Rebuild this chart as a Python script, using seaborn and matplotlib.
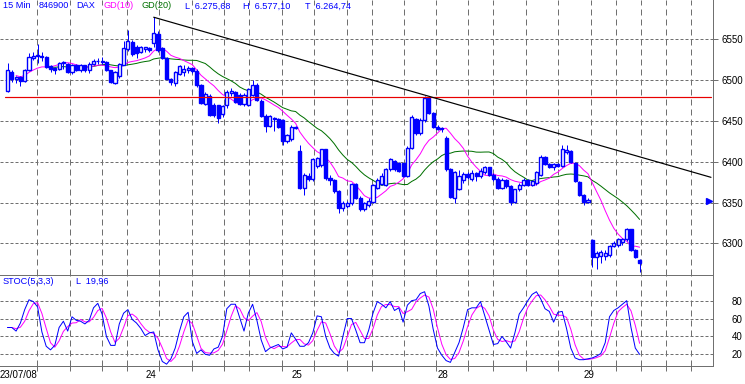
import numpy as np
import pandas as pd
import matplotlib
matplotlib.use("Agg")
import matplotlib.pyplot as plt
import seaborn as sns

# ------------------------------------------------------------------ data
day_labels = ["23/07/08", "24", "25", "28", "29"]
bars_per_day = [34, 34, 34, 34, 12]

open_ = [6487, 6510, 6501, 6504, 6499, 6513, 6527, 6529, 6530, 6528, 6517, 6515, 6514, 6521, 6520, 6510, 6519, 6513, 6518, 6512,
         6520, 6523, 6524, 6522, 6512, 6497, 6505, 6519, 6538, 6547, 6541, 6535, 6538, 6539,
         6545, 6556, 6539, 6527, 6502, 6496, 6508, 6510, 6512, 6515, 6511, 6494, 6471, 6481, 6470, 6469, 6458, 6470, 6484, 6485,
         6482, 6471, 6470, 6482, 6494, 6475, 6456, 6444, 6452, 6452, 6451, 6425, 6428, 6443,
         6413, 6368, 6383, 6379, 6395, 6396, 6415, 6380, 6378, 6364, 6343, 6346, 6349, 6373, 6356, 6342, 6347, 6351, 6368, 6373,
         6372, 6391, 6401, 6398, 6398, 6383, 6417, 6452, 6435, 6451, 6478, 6460, 6443, 6440,
         6429, 6391, 6356, 6367, 6378, 6385, 6379, 6386, 6383, 6387, 6393, 6384, 6379, 6368, 6378, 6370, 6351, 6366, 6372, 6378,
         6372, 6374, 6384, 6406, 6397, 6393, 6397, 6395, 6412, 6413, 6399, 6375, 6359, 6351,
         6304, 6283, 6284, 6285, 6286, 6297, 6298, 6302, 6305, 6317, 6292, 6280]
high = [6521, 6513, 6505, 6505, 6514, 6533, 6534, 6544, 6535, 6529, 6518, 6516, 6522, 6523, 6521, 6520, 6520, 6520, 6519, 6522,
        6526, 6527, 6528, 6523, 6513, 6511, 6521, 6548, 6561, 6549, 6543, 6542, 6541, 6541,
        6577.1, 6560, 6540, 6528, 6503, 6511, 6518, 6519, 6517, 6516, 6514, 6495, 6486, 6483, 6472, 6470, 6470, 6488, 6490, 6487,
        6484, 6484, 6490, 6500, 6496, 6477, 6458, 6457, 6455, 6454, 6452, 6434, 6445, 6444,
        6421, 6386, 6386, 6404, 6406, 6416, 6416, 6384, 6379, 6365, 6352, 6352, 6374, 6374, 6358, 6351, 6356, 6373, 6380, 6386,
        6392, 6405, 6402, 6400, 6399, 6419, 6457, 6454, 6453, 6481, 6479, 6461, 6445, 6443,
        6432, 6392, 6389, 6390, 6388, 6387, 6390, 6388, 6392, 6395, 6394, 6386, 6381, 6380, 6379, 6371, 6367, 6374, 6380, 6379,
        6378, 6389, 6408, 6407, 6398, 6399, 6399, 6420, 6420, 6414, 6400, 6376, 6360, 6355,
        6305, 6290, 6292, 6292, 6298, 6303, 6306, 6307, 6319, 6318, 6293, 6281]
low = [6486, 6498, 6496, 6493, 6498, 6511, 6525, 6521, 6523, 6515, 6510, 6507, 6512, 6514, 6509, 6508, 6511, 6510, 6510, 6509,
       6518, 6520, 6520, 6511, 6497, 6495, 6503, 6518, 6536, 6529, 6527, 6533, 6535, 6535,
       6540, 6535, 6526, 6501, 6494, 6493, 6506, 6505, 6509, 6509, 6492, 6471, 6470, 6456, 6455, 6448, 6455, 6466, 6480, 6472,
       6470, 6468, 6468, 6480, 6474, 6455, 6436, 6442, 6438, 6441, 6420, 6423, 6426, 6440,
       6366, 6359, 6376, 6376, 6392, 6394, 6378, 6372, 6362, 6337, 6340, 6343, 6347, 6354, 6340, 6340, 6345, 6350, 6366, 6371,
       6370, 6389, 6389, 6387, 6381, 6381, 6415, 6433, 6433, 6449, 6458, 6441, 6439, 6436,
       6389, 6355, 6350, 6365, 6374, 6379, 6377, 6376, 6380, 6385, 6383, 6377, 6367, 6366, 6368, 6347, 6349, 6364, 6370, 6370,
       6370, 6372, 6382, 6396, 6392, 6390, 6394, 6393, 6410, 6399, 6375, 6358, 6347, 6349,
       6271, 6269, 6276, 6280, 6283, 6295, 6296, 6298, 6303, 6290, 6282, 6264.74]
close = [6512, 6501, 6504, 6499, 6513, 6528, 6530, 6531, 6528, 6516, 6514, 6513, 6521, 6522, 6510, 6519, 6513, 6518, 6512, 6520,
         6524, 6524, 6522, 6512, 6498, 6510, 6520, 6539, 6548, 6532, 6533, 6540, 6540, 6537,
         6558, 6537, 6527, 6502, 6498, 6510, 6517, 6514, 6515, 6511, 6494, 6472, 6483, 6457, 6457, 6453, 6468, 6486, 6487, 6473,
         6471, 6482, 6489, 6494, 6476, 6456, 6444, 6456, 6454, 6443, 6425, 6433, 6443, 6441,
         6368, 6384, 6379, 6403, 6404, 6415, 6380, 6378, 6364, 6343, 6350, 6349, 6373, 6356, 6342, 6349, 6352, 6372, 6378, 6382,
         6391, 6403, 6391, 6389, 6383, 6417, 6455, 6435, 6451, 6478, 6460, 6443, 6440, 6441,
         6391, 6357, 6387, 6383, 6385, 6381, 6386, 6383, 6389, 6393, 6384, 6379, 6368, 6378, 6370, 6351, 6366, 6372, 6378, 6372,
         6377, 6387, 6406, 6397, 6393, 6397, 6395, 6415, 6414, 6400, 6376, 6359, 6351, 6353,
         6283, 6288, 6289, 6288, 6297, 6301, 6305, 6305, 6317, 6292, 6283, 6275.68]

# Stochastic (5,3,3) %K
stoch_k = [50, 50, 46, 55, 70, 81, 79, 73, 45, 29, 25, 30, 50, 57, 46, 62, 58, 57, 54, 58,
           72, 77, 65, 40, 30, 30, 54, 66, 70, 59, 55, 49, 41, 44, 45, 25, 12, 9, 15, 27,
           46, 62, 67, 34, 21, 25, 20, 19, 26, 28, 40, 71, 76, 76, 61, 46, 66, 76, 58, 36,
           23, 27, 29, 31, 26, 28, 44, 37, 29, 29, 33, 44, 63, 62, 40, 27, 21, 18, 40, 60,
           60, 47, 33, 33, 47, 66, 79, 76, 72, 79, 69, 72, 56, 75, 80, 81, 88, 90, 74, 48,
           27, 19, 13, 11, 22, 33, 50, 70, 72, 72, 79, 63, 47, 31, 32, 40, 34, 27, 44, 65,
           72, 80, 87, 90, 82, 71, 68, 56, 67, 68, 49, 27, 16, 14, 14, 15, 16, 18, 21, 33,
           62, 69, 72, 76, 80, 50, 27, 19.96]

price_ticks = [6300, 6350, 6400, 6450, 6500, 6550]
stoch_ticks = [20, 40, 60, 80]
resistance = 6479.3
trend_x = [34, 163.6]
trend_y = [6577.1, 6380.9]
marker_level = 6352

header = [("15 Min", "#0000ff"), ("846900", "#0000ff"), ("DAX", "#0000ff"),
          ("GD(10)", "#ff00ff"), ("GD(20)", "#007000"),
          ("L  6.275,68", "#0000ff"), ("H  6.577,10", "#0000ff"), ("T  6.264,74", "#0000ff")]
stoch_header = [("STOC(5,3,3)", "#0000ff"), ("L  19,96", "#0000ff")]

# ------------------------------------------------------------------ style
sns.set_theme(style="white")
plt.rcParams['font.family'] = ['Liberation Sans', 'DejaVu Sans']
plt.rcParams['lines.scale_dashes'] = False

W, H = 745, 384
PX = 72 / 100  # points per pixel
BLUE = "#0000ff"
GRID = "#707070"
FS = 7.0
FSH = 6.6

fig = plt.figure(figsize=(W / 100, H / 100), dpi=100)
fig.patch.set_facecolor("white")
ax = fig.add_axes([0, 1 - 275 / H, 713 / W, 275 / H])
ax2 = fig.add_axes([0, 1 - 366 / H, 713 / W, 91 / H])

df = pd.DataFrame({"open": open_, "high": high, "low": low, "close": close})
df["i"] = np.arange(len(df))
df["ma10"] = df["close"].rolling(10, min_periods=3).mean()
df["ma20"] = df["close"].rolling(20, min_periods=10).mean()
st = pd.DataFrame({"i": np.arange(len(stoch_k)), "k": stoch_k})
st["d"] = st["k"].rolling(3, min_periods=1).mean()

day_start = np.concatenate([[0], np.cumsum(bars_per_day)[:-1]])

x0, x1 = -7.5 / 4.3, (713 - 7.5) / 4.3
grid_x = [6.9, 14.5, 22.0, 27.8, 35.2, 42.9, 50.3, 56.2, 63.8, 71.3, 79.0, 84.8, 92.2,
          99.7, 107.1, 112.9, 120.6, 128.0, 135.7, 141.5, 147.3, 153.1, 158.9]

for a in (ax, ax2):
    a.set_facecolor("white")
    a.set_xlim(x0, x1)
    for gx in grid_x:
        a.axvline(gx, color=GRID, lw=PX, dashes=(6 * PX, 4 * PX), zorder=1)
    a.spines["left"].set_visible(False)
    for s in ("right", "top", "bottom"):
        a.spines[s].set_color(GRID)
        a.spines[s].set_linewidth(PX)
ax.spines["top"].set_visible(False)

# main price panel
ax.set_ylim(6261.2, 6598.2)
for p in price_ticks:
    ax.axhline(p, color=GRID, lw=PX, dashes=(3 * PX, 2 * PX), zorder=1)

sns.lineplot(data=df, x="i", y="ma20", ax=ax, color="#007000", lw=PX, estimator=None, sort=False, zorder=2)
sns.lineplot(data=df, x="i", y="ma10", ax=ax, color="#ff00ff", lw=PX, estimator=None, sort=False, zorder=2)

up = df["close"] >= df["open"]
ax.vlines(df["i"], df["low"], df["high"], color=BLUE, lw=PX, zorder=3)
ax.bar(df["i"][up], (df["close"] - df["open"])[up], bottom=df["open"][up], width=0.72,
       facecolor="white", edgecolor=BLUE, linewidth=1.4 * PX, zorder=4)
ax.bar(df["i"][~up], (df["close"] - df["open"])[~up], bottom=df["open"][~up], width=0.72,
       facecolor=BLUE, edgecolor=BLUE, linewidth=1.4 * PX, zorder=4)

ax.plot([x0 + 1.2, trend_x[1]], [resistance, resistance], color="#e80000", lw=PX * 1.2, zorder=5)
ax.plot(trend_x, trend_y, color="black", lw=PX * 1.2, zorder=5)
ax.plot([trend_x[1] - 0.4], [marker_level], marker=">", color=BLUE, ms=4, clip_on=False, zorder=6)

ax.yaxis.tick_right()
ax.set_yticks(price_ticks)
ax.set_yticklabels([str(p) for p in price_ticks])
ax.tick_params(axis="y", length=5 * PX, width=PX, color=GRID, pad=4 * PX, labelsize=FS, labelcolor="black")
ax.set_xticks([])
ax.set_xlabel("")
ax.set_ylabel("")

# stochastic panel
ax2.set_ylim(6.95, 108.7)
for v in stoch_ticks:
    ax2.axhline(v, color=GRID, lw=PX, dashes=(3 * PX, 2 * PX), zorder=1)
sns.lineplot(data=st, x="i", y="d", ax=ax2, color="#ff00ff", lw=PX, estimator=None, sort=False, zorder=3)
sns.lineplot(data=st, x="i", y="k", ax=ax2, color=BLUE, lw=PX, estimator=None, sort=False, zorder=4)
ax2.yaxis.tick_right()
ax2.set_yticks(stoch_ticks)
ax2.set_yticklabels([str(v) for v in stoch_ticks])
ax2.tick_params(axis="y", length=0, pad=19 * PX, labelsize=FS, labelcolor="black")
label_pos = [x0] + [s - 0.7 for s in day_start[1:]]
ax2.set_xticks(label_pos)
ax2.set_xticklabels(day_labels)
ax2.get_xticklabels()[0].set_ha("left")
ax2.set_xticks(grid_x, minor=True)
ax2.tick_params(axis="x", which="major", length=0, pad=4 * PX, labelsize=FS, labelcolor="black")
ax2.tick_params(axis="x", which="minor", length=5 * PX, width=PX, color=GRID, bottom=True)
ax2.set_xlabel("")
ax2.set_ylabel("")

# header texts
hx = [3, 39, 76, 103, 142, 185, 243, 305]
for (t, c), x in zip(header, hx):
    fig.text(x / W, 1 - 6 / H, t, color=c, fontsize=FSH, va="center", ha="left")
for (t, c), x in zip(stoch_header, [3, 76]):
    fig.text(x / W, 1 - 281 / H, t, color=c, fontsize=FSH, va="center", ha="left")

fig.savefig("out.png", dpi=100, facecolor="white")
